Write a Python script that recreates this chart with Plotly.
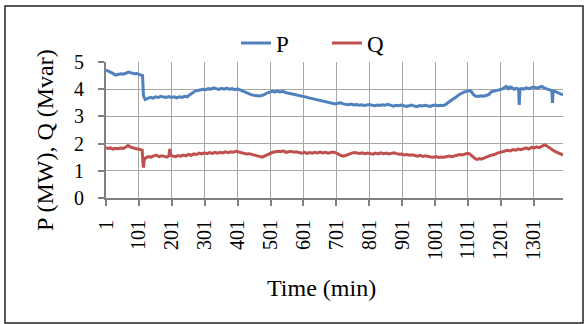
import plotly.graph_objects as go

# minutes and values
p_min = [1,8,15,22,30,38,46,54,62,70,78,86,94,102,108,112,115,120,128,136,144,152,160,168,176,184,192,200,208,216,224,232,240,248,256,264,272,280,288,296,304,312,320,328,336,344,352,360,368,376,384,392,401,410,418,426,434,442,450,458,466,474,482,490,498,506,514,522,530,538,546,554,562,570,578,586,594,602,610,618,626,634,642,650,658,666,674,682,690,698,706,714,722,730,738,746,754,762,770,778,786,794,802,810,818,826,834,842,850,858,866,874,882,890,898,906,914,922,930,938,946,954,962,970,978,986,994,1002,1010,1018,1026,1034,1042,1050,1058,1066,1074,1082,1090,1098,1106,1112,1118,1124,1132,1140,1148,1156,1164,1172,1180,1188,1196,1204,1212,1218,1224,1230,1236,1242,1248,1255,1257,1259,1264,1270,1278,1286,1294,1302,1310,1318,1326,1334,1342,1348,1356,1358,1360,1366,1372,1378,1384,1390]
p_val = [4.70,4.66,4.64,4.58,4.52,4.55,4.57,4.55,4.60,4.63,4.60,4.57,4.58,4.55,4.52,4.50,3.75,3.62,3.66,3.70,3.67,3.72,3.70,3.74,3.71,3.70,3.73,3.70,3.72,3.68,3.72,3.70,3.74,3.72,3.80,3.88,3.93,3.95,3.98,4.00,3.98,4.02,4.00,4.05,4.02,3.99,4.03,4.00,4.04,4.00,4.02,3.98,4.01,3.96,3.92,3.88,3.84,3.80,3.78,3.76,3.75,3.77,3.80,3.86,3.90,3.92,3.90,3.93,3.90,3.92,3.88,3.86,3.85,3.82,3.80,3.78,3.76,3.74,3.71,3.68,3.66,3.62,3.60,3.58,3.56,3.54,3.52,3.50,3.47,3.46,3.48,3.50,3.46,3.44,3.43,3.45,3.42,3.44,3.41,3.43,3.40,3.42,3.44,3.41,3.39,3.42,3.40,3.43,3.41,3.44,3.40,3.38,3.41,3.39,3.42,3.40,3.37,3.39,3.42,3.38,3.36,3.40,3.38,3.41,3.39,3.37,3.40,3.42,3.39,3.41,3.40,3.44,3.52,3.58,3.65,3.72,3.80,3.86,3.90,3.92,3.95,3.90,3.80,3.75,3.73,3.76,3.74,3.77,3.80,3.90,3.92,3.95,3.97,4.00,4.06,4.10,4.02,4.08,4.05,4.00,4.03,4.01,3.42,4.00,4.02,4.00,4.05,4.02,4.06,4.08,4.04,4.06,4.10,4.04,4.00,3.98,3.95,3.50,3.94,3.92,3.88,3.85,3.82,3.80]

q_min = [1,8,15,22,30,38,46,54,62,68,74,82,90,98,106,111,113,115,117,122,130,138,146,154,162,170,178,186,192,195,198,204,212,220,228,236,244,252,260,268,276,284,292,300,308,316,324,332,340,348,356,364,372,380,388,396,404,412,420,428,436,444,452,460,468,476,484,492,500,508,516,524,532,540,548,556,564,572,580,588,596,604,612,620,628,636,644,652,660,668,676,684,692,700,708,716,724,732,740,748,756,764,772,780,788,796,804,812,820,828,836,844,852,860,868,876,884,892,900,908,916,924,932,940,948,956,964,972,980,988,996,1004,1012,1020,1028,1036,1044,1052,1060,1068,1076,1084,1092,1100,1106,1112,1118,1124,1130,1136,1142,1150,1158,1166,1174,1182,1190,1198,1206,1214,1222,1230,1238,1246,1254,1262,1270,1278,1286,1294,1302,1310,1318,1326,1334,1340,1348,1356,1364,1372,1380,1386,1390]
q_val = [1.85,1.82,1.84,1.80,1.83,1.81,1.84,1.82,1.88,1.93,1.88,1.84,1.82,1.80,1.78,1.76,1.35,1.12,1.40,1.48,1.52,1.50,1.55,1.58,1.52,1.55,1.53,1.50,1.55,1.80,1.56,1.53,1.52,1.56,1.54,1.58,1.55,1.60,1.57,1.62,1.60,1.65,1.62,1.66,1.63,1.67,1.64,1.68,1.65,1.68,1.66,1.70,1.67,1.70,1.68,1.72,1.70,1.66,1.64,1.62,1.63,1.60,1.58,1.55,1.52,1.50,1.55,1.60,1.64,1.68,1.70,1.72,1.70,1.73,1.68,1.70,1.72,1.68,1.70,1.67,1.65,1.68,1.64,1.67,1.65,1.68,1.66,1.69,1.66,1.68,1.65,1.67,1.69,1.66,1.60,1.56,1.54,1.58,1.62,1.65,1.67,1.66,1.64,1.66,1.63,1.65,1.64,1.61,1.65,1.62,1.66,1.63,1.65,1.62,1.64,1.66,1.63,1.61,1.62,1.58,1.60,1.57,1.59,1.56,1.54,1.57,1.53,1.55,1.52,1.51,1.50,1.52,1.49,1.51,1.50,1.52,1.54,1.52,1.55,1.57,1.60,1.58,1.62,1.64,1.62,1.55,1.48,1.44,1.42,1.45,1.43,1.48,1.52,1.55,1.58,1.60,1.65,1.68,1.70,1.72,1.75,1.73,1.78,1.76,1.80,1.78,1.82,1.84,1.80,1.86,1.84,1.88,1.85,1.90,1.95,1.92,1.85,1.78,1.72,1.68,1.63,1.60,1.58]

tick_vals = [1,101,201,301,401,501,601,701,801,901,1001,1101,1201,1301]
tick_text = [str(v) for v in tick_vals]

FONT = "Liberation Serif, Times New Roman, serif"

fig = go.Figure()
fig.add_trace(go.Scatter(x=p_min, y=p_val, mode="lines", name="P",
                         line=dict(color="#4F81BD", width=3)))
fig.add_trace(go.Scatter(x=q_min, y=q_val, mode="lines", name="Q",
                         line=dict(color="#C0504D", width=3)))

L, R, T, B = 106, 22, 62, 126
W, H = 585, 324
pw, ph = W - L - R, H - T - B

def px(x):
    return (x - L) / pw

def py(y):
    return (H - B - y) / ph

fig.update_layout(
    width=W, height=H,
    margin=dict(l=L, r=R, t=T, b=B),
    paper_bgcolor="white", plot_bgcolor="white",
    font=dict(family=FONT, size=20, color="black"),
    showlegend=True,
    legend=dict(orientation="h", x=px(236), xanchor="left", y=py(43), yanchor="middle",
                font=dict(size=23), entrywidth=46, bgcolor="rgba(0,0,0,0)"),
    xaxis=dict(range=[1, 1390], tickmode="array", tickvals=tick_vals, ticktext=tick_text,
               tickangle=-90, showgrid=True, gridcolor="#a6a6a6", gridwidth=1,
               showline=True, linecolor="#808080", linewidth=2,
               ticks="outside", ticklen=6, tickwidth=2, tickcolor="#808080",
               zeroline=False, tickfont=dict(size=20), ticklabelstandoff=6),
    yaxis=dict(range=[0, 5], dtick=1, showgrid=True, gridcolor="#a6a6a6", gridwidth=1,
               showline=True, linecolor="#808080", linewidth=2,
               ticks="outside", ticklen=6, tickwidth=2, tickcolor="#808080",
               zeroline=False, tickfont=dict(size=20), ticklabelstandoff=10),
    shapes=[dict(type="rect", xref="paper", yref="paper",
                 x0=px(5), x1=px(583), y0=py(323), y1=py(6),
                 line=dict(color="#222222", width=1.5), fillcolor="rgba(0,0,0,0)",
                 layer="below")],
    annotations=[
        dict(text="Time (min)", xref="paper", yref="paper", x=px(321), y=py(288),
             xanchor="center", yanchor="middle", showarrow=False, font=dict(size=24)),
        dict(text="P (MW), Q (Mvar)", xref="paper", yref="paper", x=px(45), y=py(140),
             xanchor="center", yanchor="middle", textangle=-90, showarrow=False,
             font=dict(size=24)),
    ],
)

fig.write_html("out.html")
